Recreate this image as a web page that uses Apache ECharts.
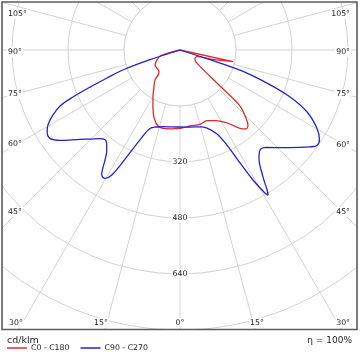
<!DOCTYPE html>
<html>
<head>
<meta charset="utf-8">
<script src="https://cdn.jsdelivr.net/npm/echarts@6/dist/echarts.min.js"></script>
<style>
html,body{margin:0;padding:0;background:#fff;}
#chart{width:360px;height:360px;}
</style>
</head>
<body>
<div id="chart"></div>
<script>
// ---- data (cd/klm vs gamma angle) ----
const gammaC180 = [90, 73.5, 66.5, 59, 52, 47, 43, 39.8, 34.4, 29.9, 24.2, 18.2, 13, 7, 0];
const cdC180    = [0, 58, 72, 83, 84, 84, 88, 112, 132, 155, 188, 220, 229, 227, 224];
const gammaC0   = [0, 7.5, 15, 21, 26.4, 30.4, 34, 37.4, 39.9, 42.2, 44.1, 47, 48, 51.5, 58.2, 68.5, 73.6, 77.6, 90];
const cdC0      = [224, 219, 220, 216, 225, 237, 255, 282, 294, 289, 271, 234, 154, 66, 50, 52, 92, 155, 0];
const gammaC270 = [90, 72, 70.7, 69, 67.6, 66.3, 65, 62.9, 60.4, 58.3, 55.8, 53, 48.2, 45.3, 42, 40, 38.2, 36, 34.3, 32.1, 30.3, 28.6, 26.5, 24, 21, 17, 12, 6, 0];
const cdC270    = [0, 90, 173, 223, 278, 334, 378, 408, 434, 446, 449, 429, 383, 362, 341, 334, 339, 356, 380, 421, 425, 407, 341, 281, 240, 230, 224, 221, 220];
const gammaC90  = [0, 7.4, 14.6, 19.1, 23.8, 26.3, 28, 29.3, 30.7, 31.3, 31.9, 33.2, 36.2, 38.7, 41.7, 48.4, 53.3, 55.1, 57.2, 60.3, 64, 66.9, 69.2, 71.5, 72, 90];
const cdC90     = [220, 222, 227, 236, 262, 303, 366, 426, 475, 485, 471, 433, 382, 366, 373, 420, 463, 477, 474, 450, 404, 342, 266, 181, 90, 0];

const seriesNames = ['C0 - C180', 'C90 - C270'];
const ringLabels = [320, 480, 640];
const angleTickLabels = ['105°','90°','75°','60°','45°','30°','15°','0°','15°','30°','45°','60°','75°','90°','105°'];
const unitLabel = 'cd/klm';
const efficiencyLabel = 'η = 100%';

// ---- layout (positions only) ----
const angleLabelPos = [
  [7,14,'left'],[7,52,'left'],[7,94,'left'],[7,144,'left'],[7,212,'left'],[8,323,'left'],
  [101,323,'center'],[180,323,'center'],[257,323,'center'],[351,323,'right'],
  [351,212,'right'],[351,145,'right'],[351,94,'right'],[351,52,'right'],[351,14,'right']
];
const FONT = '"DejaVu Sans", Verdana, sans-serif';

function buildCurve(gLeft, vLeft, gRight, vRight) {
  const out = [];
  for (let i = 0; i < gLeft.length; i++) out.push([vLeft[i], 360 - gLeft[i]]);
  for (let i = 0; i < gRight.length; i++) {
    if (i === 0 && gRight[i] === 0) continue;
    out.push([vRight[i], gRight[i]]);
  }
  return out;
}

const chart = echarts.init(document.getElementById('chart'), null, {renderer: 'canvas'});

const graphics = [
  {type:'rect', z:50, shape:{x:0,y:330,width:360,height:30}, style:{fill:'#fff'}},
  {type:'rect', z:50, shape:{x:0,y:0,width:2,height:360}, style:{fill:'#fff'}},
  {type:'rect', z:50, shape:{x:357,y:0,width:3,height:360}, style:{fill:'#fff'}},
  {type:'rect', z:50, shape:{x:0,y:0,width:360,height:2}, style:{fill:'#fff'}},
  {type:'rect', z:55, shape:{x:2,y:2,width:355,height:327.5}, style:{fill:'none', stroke:'#5c5c5c', lineWidth:1.6}},
  {type:'text', z:60, x:7, y:341, style:{text:unitLabel, font:'9.5px ' + FONT, fill:'#1a1a1a', verticalAlign:'middle'}},
  {type:'text', z:60, x:352, y:341, style:{text:efficiencyLabel, font:'9px ' + FONT, fill:'#1a1a1a', align:'right', verticalAlign:'middle'}}
];
angleTickLabels.forEach((t, i) => {
  const p = angleLabelPos[i];
  graphics.push({type:'text', z:40, x:p[0], y:p[1], style:{text:t, font:'7.8px ' + FONT, fill:'#222', align:p[2], verticalAlign:'middle', backgroundColor:'#fff', padding:[1,1]}});
});

chart.setOption({
  animation: false,
  polar: {center: [180, 50], radius: 336},
  angleAxis: {
    type: 'value', min: 0, max: 360, interval: 15, startAngle: 270, clockwise: false,
    axisLine: {show: false}, axisTick: {show: false}, axisLabel: {show: false},
    splitLine: {show: true, lineStyle: {color: '#d3d3d3', width: 1}}
  },
  radiusAxis: {
    type: 'value', min: 0, max: 960, interval: 160,
    axisLine: {show: false}, axisTick: {show: false}, axisLabel: {show: false},
    splitLine: {show: true, lineStyle: {color: '#d3d3d3', width: 1}}
  },
  legend: {
    left: 7, top: 344, padding: 0, z: 100, itemWidth: 20, itemHeight: 1.5, itemGap: 11, icon: 'rect',
    textStyle: {fontFamily: FONT, fontSize: 7.8, color: '#1a1a1a', padding: [0, 0, 0, -1]},
    data: seriesNames
  },
  graphic: graphics,
  series: [
    {
      type: 'custom', coordinateSystem: 'polar', z: 1, silent: true,
      data: [[160, 0]],
      renderItem: function (params, api) {
        const c = api.coord([0, 0]);
        const p = api.coord([api.value(0), api.value(1)]);
        const r = Math.hypot(p[0] - c[0], p[1] - c[1]);
        return {type: 'circle', shape: {cx: c[0], cy: c[1], r: r}, style: {fill: '#fff', stroke: '#d3d3d3', lineWidth: 1}};
      }
    },
    {
      type: 'custom', coordinateSystem: 'polar', z: 3, silent: true,
      data: ringLabels.map(v => [v, 0]),
      renderItem: function (params, api) {
        const p = api.coord([api.value(0), api.value(1)]);
        return {type: 'text', x: p[0], y: p[1], style: {text: String(api.value(0)), font: '7.8px ' + FONT, fill: '#222', align: 'center', verticalAlign: 'middle', backgroundColor: '#fff', padding: [1, 1]}};
      }
    },
    {
      name: seriesNames[0], type: 'line', coordinateSystem: 'polar', z: 5,
      showSymbol: false, smooth: 0.35, color: '#dd2a2a',
      lineStyle: {width: 1.3, color: '#dd2a2a'},
      data: buildCurve(gammaC180, cdC180, gammaC0, cdC0)
    },
    {
      name: seriesNames[1], type: 'line', coordinateSystem: 'polar', z: 6,
      showSymbol: false, smooth: 0.35, color: '#2323c8',
      lineStyle: {width: 1.3, color: '#2323c8'},
      data: buildCurve(gammaC270, cdC270, gammaC90, cdC90)
    }
  ]
});
</script>
</body>
</html>
